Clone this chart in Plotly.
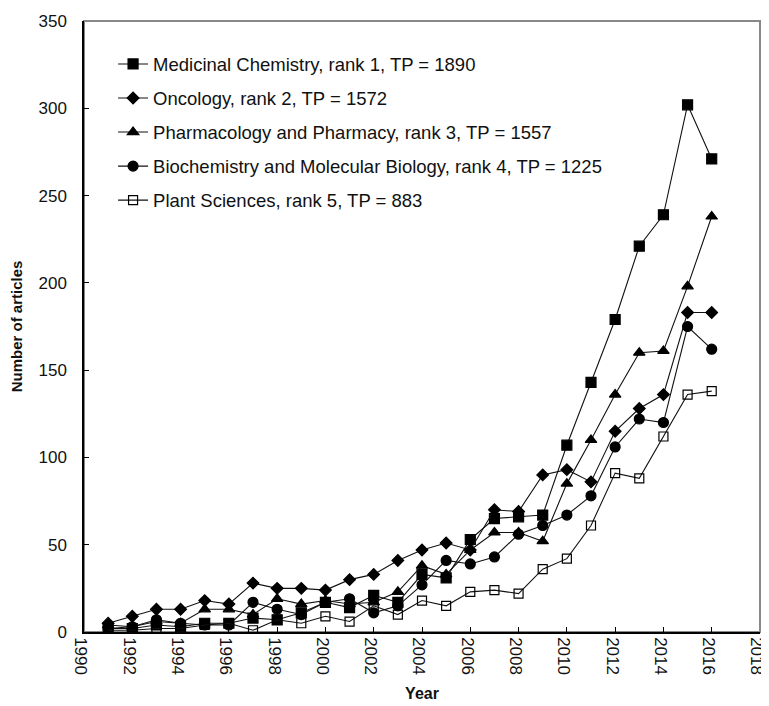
import plotly.graph_objects as go

years = list(range(1991, 2017))

medicinal_chemistry = [2, 2, 4, 3, 5, 5, 8, 7, 11, 17, 14, 21, 17, 33, 31,
                       53, 65, 66, 67, 107, 143, 179, 221, 239, 302, 271]
oncology = [5, 9, 13, 13, 18, 16, 28, 25, 25, 24, 30, 33, 41, 47, 51,
            47, 70, 69, 90, 93, 86, 115, 128, 136, 183, 183]
pharmacology = [4, 3, 6, 5, 13, 13, 10, 19, 16, 18, 16, 17, 23, 38, 33,
                47, 57, 57, 52, 85, 110, 136, 160, 161, 198, 238]
biochemistry = [2, 3, 7, 5, 4, 4, 17, 13, 10, 17, 19, 11, 15, 27, 41,
                39, 43, 56, 61, 67, 78, 106, 122, 120, 175, 162]
plant_sciences = [1, 1, 2, 2, 4, 5, 1, 7, 5, 9, 6, 15, 10, 18, 15,
                  23, 24, 22, 36, 42, 61, 91, 88, 112, 136, 138]

series_names = [
    "Medicinal Chemistry, rank 1, TP = 1890",
    "Oncology, rank 2, TP = 1572",
    "Pharmacology and Pharmacy, rank 3, TP = 1557",
    "Biochemistry and Molecular Biology, rank 4, TP = 1225",
    "Plant Sciences, rank 5, TP = 883",
]
series_values = [medicinal_chemistry, oncology, pharmacology, biochemistry, plant_sciences]

x_ticks = list(range(1990, 2019, 2))
y_ticks = list(range(0, 351, 50))

styles = [
    dict(symbol="square", size=10),
    dict(symbol="diamond", size=9),
    dict(symbol="triangle-up", size=10),
    dict(symbol="circle", size=10),
    dict(symbol="square-open", size=9),
]

FONT = "Liberation Sans, Arial, sans-serif"

fig = go.Figure()
for i, (name, vals, st) in enumerate(zip(series_names, series_values, styles)):
    fig.add_trace(go.Scatter(
        x=years, y=vals, name=name, mode="lines+markers",
        legendgroup=f"g{i}",
        line=dict(color="#111111", width=1.1),
        marker=dict(symbol=st["symbol"], size=st["size"], color="black",
                    line=dict(color="black", width=1.2)),
    ))

# page body has an 8px default margin, so the figure is sized to fit the window
fig.update_layout(
    width=761, height=698,
    margin=dict(l=76, r=9, t=13, b=74),
    plot_bgcolor="white", paper_bgcolor="white",
    font=dict(family=FONT, size=17, color="#111111"),
    showlegend=True,
    legend=dict(x=0.043, y=0.96, xanchor="left", yanchor="top",
                bgcolor="rgba(0,0,0,0)", borderwidth=0,
                font=dict(family=FONT, size=18.5, color="#111111"),
                tracegroupgap=7, itemwidth=30),
    shapes=[dict(type="rect", xref="paper", yref="paper", x0=0, x1=1, y0=0, y1=1,
                 line=dict(color="#888888", width=2), layer="below")],
)

fig.update_xaxes(
    range=[1990, 2018], tickvals=x_ticks, ticktext=[str(v) for v in x_ticks],
    tickangle=90, ticks="inside", ticklen=5, tickcolor="black",
    showline=True, linecolor="black", linewidth=1.5, showgrid=False, zeroline=False,
    automargin=False, ticklabeloverflow="allow", ticklabelshift=-3,
    tickfont=dict(family=FONT, size=17, color="#111111"),
    title=dict(text="<b>Year</b>", font=dict(family=FONT, size=16, color="#111111"), standoff=14),
)
fig.update_yaxes(
    range=[0, 350], tickvals=y_ticks, ticks="inside", ticklen=5, tickcolor="black",
    showline=True, linecolor="black", linewidth=1.5, showgrid=False, zeroline=False,
    automargin=False, ticklabeloverflow="allow",
    tickfont=dict(family=FONT, size=17, color="#111111"),
    ticklabelstandoff=12,
    title=dict(text="<b>Number of articles</b>", font=dict(family=FONT, size=15, color="#111111"), standoff=13),
)

fig.write_html("out.html")
